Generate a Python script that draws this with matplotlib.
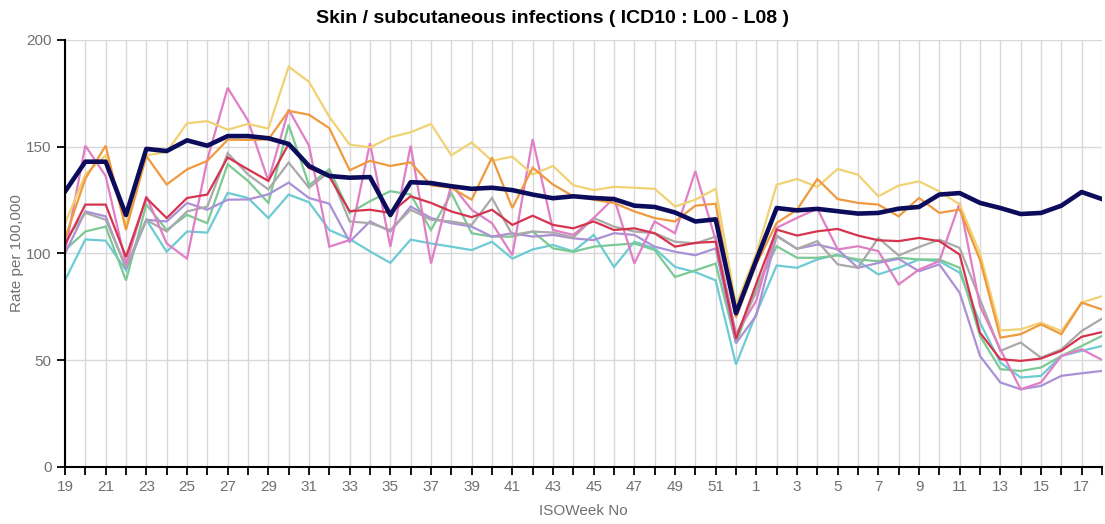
import matplotlib
matplotlib.use("Agg")
import matplotlib.pyplot as plt
import numpy as np

plt.rcParams['font.family'] = ['Liberation Sans', 'DejaVu Sans']

# ISO weeks 19..52 then 1..18
weeks = list(range(19, 53)) + list(range(1, 19))

navy = [129, 143, 143, 118, 149, 148, 153, 150.5, 155, 155,
        154, 151.3, 141, 136.3, 135.5, 135.8, 118, 133.4, 133, 131.5,
        130.3, 130.8, 129.7, 127.6, 125.9, 126.8, 126, 125.5, 122.4, 121.8,
        119.2, 115, 116, 72, 97, 121.3, 120.2, 120.9, 119.8, 118.7,
        119, 121, 121.8, 127.6, 128.3, 123.7, 121.3, 118.5, 119, 122.4,
        128.8, 125.5]
yellow = [114, 137, 146, 113, 146, 147.5, 161, 162, 158, 160.7,
          158.5, 187.5, 180.4, 164, 151, 149.7, 154.4, 156.8, 160.7, 146,
          152, 143.4, 145.4, 137, 141, 132, 129.7, 131.2, 130.8, 130.3,
          122, 125.2, 130.3, 76, 100, 132.2, 134.9, 131.2, 139.6, 136.9,
          126.8, 131.8, 133.8, 129.1, 123, 100, 64, 64.5, 67.6, 63.7,
          77, 80]
orange = [107, 135, 150.5, 111, 145.7, 132.3, 139.4, 143.4, 153.3, 153.2,
          153.4, 166.8, 165, 158.7, 139, 143.4, 141, 142.7, 131.9, 130.8,
          125.2, 145, 121.3, 140.2, 132.3, 126.8, 125.2, 123.7, 119.7, 116.6,
          115, 122.4, 123.3, 70, 95, 114.3, 120.5, 134.9, 125.5, 123.7,
          122.9, 117.4, 126, 119, 120.6, 97, 60.6, 62.2, 66.8, 62.2,
          77, 73.8]
red = [104, 122.9, 122.9, 98.4, 126, 116.6, 126, 127.6, 145, 139.4,
       134, 151.3, 140, 136, 119.8, 120.5, 119, 126.8, 123.7, 119.7,
       117, 120.5, 113.4, 117.7, 113.4, 111.8, 115, 111, 111.8, 109.5,
       103.2, 105, 105.5, 60, 86, 111.2, 108.4, 110.4, 111.5, 108.4,
       106.2, 105.8, 107.3, 105.8, 99.5, 62.9, 50.5, 49.7, 50.8, 54.4,
       61, 63.2]
pink = [101, 150.5, 136.3, 95, 126.8, 104.7, 97.6, 144, 177.6, 162.3,
        134, 167.4, 150.5, 103.2, 106.3, 151.7, 103.2, 150.5, 95.3, 132.3,
        120.5, 114.2, 99.2, 153.6, 111, 108.7, 116.6, 126, 95.3, 115,
        109.5, 138.6, 106.3, 62, 78, 112, 116.7, 121, 101.9, 103.4,
        101.1, 85.5, 92.5, 96.4, 123.7, 75.4, 55.1, 36.4, 39.6, 52,
        55.1, 50.2]
gray = [106, 119, 115.8, 93.7, 115.8, 110.3, 119.7, 122, 147, 137,
        130, 142.6, 130.8, 138.2, 115, 114.2, 111, 120.5, 115.8, 115,
        113.4, 126, 108.7, 110.3, 109.8, 107.5, 116.6, 112.6, 110.3, 109.5,
        105.5, 104.7, 107.9, 62, 82, 108.1, 102.2, 105.8, 94.9, 93.3,
        107.3, 99.1, 103, 106.5, 102.6, 78.5, 54.4, 58.3, 51.2, 55.1,
        63.7, 69.5]
green = [101.6, 110.3, 112.6, 87.4, 122.9, 111, 118.1, 114.2, 141.8, 134,
         123.7, 160.3, 132, 139.5, 119, 124.5, 129.2, 127.6, 111, 128.3,
         109.5, 107.9, 107.9, 110.3, 102.4, 100.8, 103.2, 104, 104.7, 101.6,
         89, 92.1, 95.3, 58, 84, 103.4, 98, 98, 99.1, 97.2,
         96.4, 98, 97.2, 97.2, 93.3, 61.4, 45.8, 45, 46.6, 52,
         56.7, 61.4]
teal = [87.4, 106.6, 106, 92.1, 115.8, 100.8, 110.3, 109.8, 128.4, 126,
        116.6, 127.6, 124, 111, 106.8, 101, 95.6, 106.5, 104.7, 103.2,
        101.6, 105.5, 97.6, 101.9, 104, 101, 108.7, 93.7, 105.5, 102.4,
        93.7, 91.3, 87.4, 48, 72, 94.4, 93.3, 97.2, 99.5, 96.4,
        90.2, 93.3, 97.2, 96.4, 91, 67.6, 48.9, 41.9, 42.7, 52,
        54.4, 56.7]
purple = [100, 119.7, 117.4, 92.9, 115.8, 115, 123.7, 120.5, 125.2, 125.3,
          127.7, 133.2, 126, 123.3, 105.5, 115, 110.3, 122, 116.6, 114.2,
          112.6, 107.9, 109.5, 107.9, 108.7, 107.1, 106.3, 109.5, 108.7, 103.2,
          100.8, 99.2, 102.4, 58, 71, 108.4, 102.2, 104.2, 101.9, 93.3,
          95.6, 97.5, 91.7, 94.9, 81.6, 52, 39.6, 36.4, 38, 42.7,
          43.9, 45]

series = [
    (teal, '#6ccbd3'),
    (green, '#7cc994'),
    (purple, '#ab90d6'),
    (gray, '#a9a9a9'),
    (pink, '#e07ec6'),
    (yellow, '#f1d273'),
    (orange, '#ef9a3e'),
    (red, '#d6344e'),
]

fig = plt.figure(figsize=(11.05, 5.24), dpi=100)
ax = fig.add_axes([65 / 1105, 1 - 467 / 524, (1102 - 65) / 1105, (467 - 40) / 524])

x = np.arange(len(weeks))
for vals, col in series:
    ax.plot(x, vals, color=col, lw=1.6, solid_joinstyle='miter')
ax.plot(x, navy, color='#0c0c5c', lw=3.3)

ax.set_xlim(0, len(weeks) - 1)
ax.set_ylim(0, 200)
ax.set_xticks(x)
ax.set_xticklabels([str(w) if i % 2 == 0 else '' for i, w in enumerate(weeks)])
ax.set_yticks([0, 50, 100, 150, 200])

ax.grid(True, color='#d8d8d8', lw=1)
ax.set_axisbelow(True)
for s in ['top', 'right']:
    ax.spines[s].set_visible(False)
for s in ['left', 'bottom']:
    ax.spines[s].set_color('black')
    ax.spines[s].set_linewidth(1.5)
ax.tick_params(axis='both', colors='black', labelcolor='#707070', labelsize=11,
               direction='out', length=6, width=1.3)

ax.set_xlabel('ISOWeek No', color='#707070', fontsize=11, labelpad=7)
ax.set_ylabel('Rate per 100,000', color='#707070', fontsize=11, labelpad=2)
fig.suptitle('Skin / subcutaneous infections ( ICD10 : L00 - L08 )',
             fontsize=14, fontweight='bold', y=0.98)

fig.savefig('out.png', dpi=100)
